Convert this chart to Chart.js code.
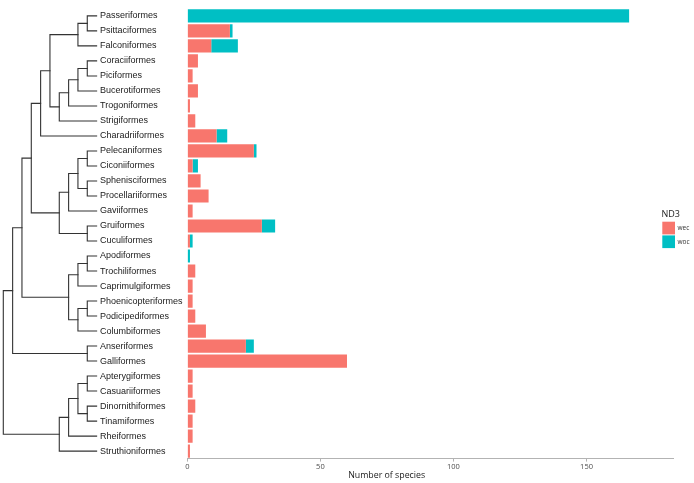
<!DOCTYPE html>
<html>
<head>
<meta charset="utf-8">
<script src="https://cdn.jsdelivr.net/npm/chart.js@4.4.1/dist/chart.umd.min.js"></script>
<style>
  html, body { margin: 0; padding: 0; background: #ffffff; }
  #wrap { width: 694px; height: 483px; }
</style>
</head>
<body>
<div id="wrap"><canvas id="c" width="694" height="483"></canvas></div>
<script>
const categories = [
  "Passeriformes", "Psittaciformes", "Falconiformes", "Coraciiformes", "Piciformes",
  "Bucerotiformes", "Trogoniformes", "Strigiformes", "Charadriiformes", "Pelecaniformes",
  "Ciconiiformes", "Sphenisciformes", "Procellariiformes", "Gaviiformes", "Gruiformes",
  "Cuculiformes", "Apodiformes", "Trochiliformes", "Caprimulgiformes", "Phoenicopteriformes",
  "Podicipediformes", "Columbiformes", "Anseriformes", "Galliformes", "Apterygiformes",
  "Casuariiformes", "Dinornithiformes", "Tinamiformes", "Rheiformes", "Struthioniformes"
];
const wec = [0, 16, 9, 4, 2, 4, 1, 3, 11, 25, 2, 5, 8, 2, 28, 1, 0, 3, 2, 2, 3, 7, 22, 60, 2, 2, 3, 2, 2, 1];
const woc = [166, 1, 10, 0, 0, 0, 0, 0, 4, 1, 2, 0, 0, 0, 5, 1, 1, 0, 0, 0, 0, 0, 3, 0, 0, 0, 0, 0, 0, 0];
const xTicks = [0, 50, 100, 150];
const xMax = 182.6;
const legendTitle = "ND3";
const xTitle = "Number of species";

// Cladogram topology (nested pairs of category names)
const tree = [
  [
    [
      [
        [
          [
            [["Passeriformes", "Psittaciformes"], "Falconiformes"],
            [[[["Coraciiformes", "Piciformes"], "Bucerotiformes"], "Trogoniformes"], "Strigiformes"]
          ],
          "Charadriiformes"
        ],
        [
          [[["Pelecaniformes", "Ciconiiformes"], ["Sphenisciformes", "Procellariiformes"]], "Gaviiformes"],
          ["Gruiformes", "Cuculiformes"]
        ]
      ],
      [
        [["Apodiformes", "Trochiliformes"], "Caprimulgiformes"],
        [["Phoenicopteriformes", "Podicipediformes"], "Columbiformes"]
      ]
    ],
    ["Anseriformes", "Galliformes"]
  ],
  [[[["Apterygiformes", "Casuariiformes"], ["Dinornithiformes", "Tinamiformes"]], "Rheiformes"], "Struthioniformes"]
];

const COL_WEC = "#F8766D";
const COL_WOC = "#00BFC4";

const treePlugin = {
  id: "treePlugin",
  afterDraw(chart) {
    const ctx = chart.ctx;
    const yScale = chart.scales.y;
    const tipX = 96.6, step = 9.33;
    ctx.save();
    ctx.strokeStyle = "#333333";
    ctx.lineWidth = 1.1;
    ctx.lineCap = "square";
    function xOf(h) { return tipX - h * step; }
    function walk(node) {
      if (typeof node === "string") {
        return { y: yScale.getPixelForValue(categories.indexOf(node)), h: 0 };
      }
      const a = walk(node[0]);
      const b = walk(node[1]);
      const h = Math.max(a.h, b.h) + 1;
      const x = xOf(h);
      ctx.beginPath();
      ctx.moveTo(x, a.y); ctx.lineTo(x, b.y);
      ctx.moveTo(x, a.y); ctx.lineTo(xOf(a.h), a.y);
      ctx.moveTo(x, b.y); ctx.lineTo(xOf(b.h), b.y);
      ctx.stroke();
      return { y: (a.y + b.y) / 2, h: h };
    }
    walk(tree);
    ctx.restore();
  }
};

const extrasPlugin = {
  id: "extrasPlugin",
  afterDraw(chart) {
    const ctx = chart.ctx;
    const area = chart.chartArea;
    const yScale = chart.scales.y;
    ctx.save();
    // x axis title, centred over label column + panel
    ctx.fillStyle = "#222222";
    ctx.font = "8.8px 'Open Sans'";
    ctx.textAlign = "center";
    ctx.textBaseline = "middle";
    ctx.fillText(xTitle, (yScale.left + area.right) / 2, 475);
    // legend
    ctx.textAlign = "left";
    ctx.fillStyle = "#222222";
    ctx.font = "9px 'Open Sans'";
    ctx.fillText(legendTitle, 661.5, 214);
    const ds = chart.data.datasets;
    ds.forEach((d, i) => {
      const top = 221.7 + i * 13.7;
      ctx.fillStyle = d.backgroundColor;
      ctx.fillRect(662.3, top, 12.7, 12.7);
      ctx.fillStyle = "#333333";
      ctx.font = "6.5px 'Open Sans'";
      ctx.fillText(d.label, 677.5, top + 6.5);
    });
    ctx.restore();
  }
};

new Chart(document.getElementById("c"), {
  type: "bar",
  data: {
    labels: categories,
    datasets: [
      { label: "wec", data: wec, backgroundColor: COL_WEC, borderWidth: 0, barPercentage: 0.88, categoryPercentage: 1.0 },
      { label: "woc", data: woc, backgroundColor: COL_WOC, borderWidth: 0, barPercentage: 0.88, categoryPercentage: 1.0 }
    ]
  },
  options: {
    indexAxis: "y",
    responsive: false,
    animation: false,
    devicePixelRatio: 1,
    layout: { padding: { left: 100, right: 20.7, top: 1.0, bottom: 0 } },
    plugins: {
      legend: { display: false },
      tooltip: { enabled: false },
      title: { display: false }
    },
    scales: {
      x: {
        type: "linear",
        stacked: true,
        min: 0,
        max: xMax,
        afterFit(scale) { scale.height = 24.4; },
        afterBuildTicks(scale) { scale.ticks = xTicks.map(v => ({ value: v })); },
        ticks: {
          font: { family: "'Open Sans'", size: 7.5 },
          color: "#4d4d4d",
          padding: 1,
          maxRotation: 0,
          includeBounds: false
        },
        grid: { display: true, drawOnChartArea: false, drawTicks: true, tickLength: 3, color: "#b3b3b3" },
        border: { display: true, color: "#b3b3b3", width: 1 },
        title: { display: false }
      },
      y: {
        type: "category",
        stacked: true,
        offset: true,
        afterFit(scale) { scale.width = 87.3; },
        ticks: {
          crossAlign: "far",
          autoSkip: false,
          font: { family: "'Liberation Sans', Arial, sans-serif", size: 9 },
          color: "#1a1a1a"
        },
        grid: { display: false },
        border: { display: false }
      }
    }
  },
  plugins: [treePlugin, extrasPlugin]
});
</script>
</body>
</html>
